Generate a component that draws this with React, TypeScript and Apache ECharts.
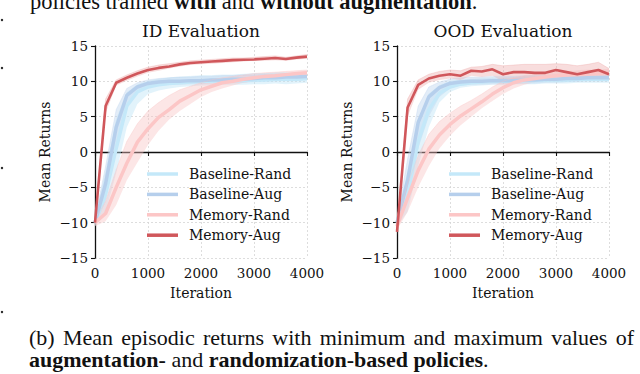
import React, { useEffect, useRef } from 'react';
import * as echarts from 'echarts';

// Iteration categories (step 200)
const iterations = ['0', '200', '400', '600', '800', '1000', '1200', '1400', '1600', '1800', '2000',
  '2200', '2400', '2600', '2800', '3000', '3200', '3400', '3600', '3800', '4000'];

const yTicks = [-15, -10, -5, 0, 5, 10, 15];
const xTickLabels = ['0', '1000', '2000', '3000', '4000'];
const seriesNames = ['Baseline-Rand', 'Baseline-Aug', 'Memory-Rand', 'Memory-Aug'];

// ---------- ID Evaluation ----------
const baseRandID = [-10, -6, 0.5, 6.5, 8.5, 9.2, 9.5, 9.7, 9.8, 9.9, 10.0, 10.0, 10.1, 10.1, 10.1, 10.2, 10.2, 10.3, 10.3, 10.3, 10.4];
const baseRandIDLo = [-10.5, -8.5, -3, 3.5, 6.8, 8.2, 8.7, 9.0, 9.2, 9.3, 9.4, 9.4, 9.5, 9.5, 9.5, 9.6, 9.6, 9.7, 9.6, 9.7, 9.8];
const baseRandIDHi = [-9.5, -3, 4.5, 8.4, 9.5, 10.0, 10.3, 10.5, 10.6, 10.7, 10.8, 10.8, 10.9, 10.9, 11.0, 11.1, 11.1, 11.2, 11.2, 11.1, 11.2];

const baseAugID = [-10, -4.5, 3.5, 8.0, 9.2, 9.7, 9.9, 10.0, 10.0, 10.1, 10.1, 10.2, 10.2, 10.3, 10.3, 10.4, 10.5, 10.5, 10.6, 10.6, 10.7];
const baseAugIDLo = [-10.5, -7, 1.0, 6.5, 8.5, 9.2, 9.4, 9.5, 9.5, 9.6, 9.6, 9.7, 9.7, 9.8, 9.8, 9.9, 10.0, 10.0, 10.1, 10.1, 10.2];
const baseAugIDHi = [-9.5, -2, 6, 9, 9.8, 10.2, 10.4, 10.5, 10.6, 10.6, 10.7, 10.7, 10.8, 10.8, 10.9, 10.9, 11.0, 11.0, 11.1, 11.1, 11.2];

const memRandID = [-10, -8.7, -5.0, -1.6, 1.4, 3.3, 4.9, 6.0, 7.2, 8.0, 8.8, 9.3, 9.8, 10.0, 10.3, 10.5, 10.7, 10.8, 10.95, 11.1, 11.2];
const memRandIDLo = [-10.5, -9.8, -7.5, -4, -1.5, 1, 3, 4.6, 5.8, 6.8, 7.8, 8.5, 9.0, 9.4, 9.8, 10.0, 10.2, 10.4, 10.5, 10.7, 10.8];
const memRandIDHi = [-9.5, -7, -2.5, 1.5, 4, 5.8, 7, 8, 8.8, 9.3, 9.8, 10.2, 10.5, 10.7, 10.9, 11.1, 11.2, 11.3, 11.4, 11.5, 11.6];

const memAugID = [-10, 6.5, 9.8, 10.5, 11.1, 11.6, 11.9, 12.1, 12.4, 12.6, 12.7, 12.8, 12.9, 13.0, 13.05, 13.1, 13.2, 13.3, 13.15, 13.35, 13.5];
const memAugIDLo = [-10.3, 5.5, 9.4, 10.1, 10.7, 11.2, 11.5, 11.8, 12.1, 12.3, 12.4, 12.5, 12.6, 12.7, 12.8, 12.9, 12.9, 13.0, 12.9, 13.1, 13.2];
const memAugIDHi = [-9.7, 7.5, 10.2, 10.9, 11.5, 12.0, 12.3, 12.5, 12.7, 12.9, 13.0, 13.1, 13.2, 13.3, 13.3, 13.4, 13.5, 13.6, 13.4, 13.6, 13.8];

// ---------- OOD Evaluation ----------
const baseRandOOD = [-10, -6, 1.5, 6.0, 8.3, 9.2, 9.6, 9.8, 9.9, 10.0, 10.0, 10.1, 10.1, 10.1, 10.2, 10.2, 10.2, 10.3, 10.3, 10.3, 10.3];
const baseRandOODLo = [-10.5, -8.5, -2, 3.5, 7.0, 8.5, 9.1, 9.3, 9.4, 9.5, 9.5, 9.6, 9.6, 9.6, 9.7, 9.7, 9.7, 9.8, 9.8, 9.8, 9.8];
const baseRandOODHi = [-9.5, -3, 4.5, 8.2, 9.4, 10.0, 10.2, 10.3, 10.4, 10.5, 10.5, 10.6, 10.6, 10.6, 10.7, 10.7, 10.7, 10.8, 10.8, 10.8, 10.8];

const baseAugOOD = [-10, -4, 4.2, 7.8, 9.1, 9.7, 9.9, 10.0, 10.0, 10.1, 10.1, 10.1, 10.2, 10.2, 10.3, 10.3, 10.4, 10.4, 10.5, 10.5, 10.5];
const baseAugOODLo = [-10.5, -7, 0.5, 5, 7.8, 9.0, 9.4, 9.5, 9.5, 9.6, 9.6, 9.6, 9.7, 9.7, 9.8, 9.8, 9.9, 9.9, 10.0, 10.0, 10.0];
const baseAugOODHi = [-9.5, -1, 6.5, 9.2, 9.9, 10.3, 10.5, 10.6, 10.6, 10.7, 10.7, 10.7, 10.8, 10.8, 10.8, 10.9, 10.9, 11.0, 11.0, 11.0, 11.0];

const memRandOOD = [-10.5, -6.5, -2.6, 0.4, 2.4, 3.9, 5.1, 6.1, 7.1, 8.2, 9.1, 9.8, 10.2, 10.4, 10.6, 10.8, 10.9, 11.0, 11.05, 11.1, 11.2];
const memRandOODLo = [-11, -8.5, -5, -2, 0.5, 2.3, 3.8, 5.0, 6.2, 7.2, 8.2, 9.0, 9.5, 9.9, 10.1, 10.3, 10.4, 10.5, 10.6, 10.6, 10.7];
const memRandOODHi = [-10, -4.5, -0.5, 2.5, 4.3, 5.5, 6.5, 7.3, 8.2, 9.2, 10.0, 10.5, 10.8, 11.0, 11.2, 11.3, 11.4, 11.5, 11.6, 11.6, 11.7];

const memAugOOD = [-11.3, 6.3, 9.5, 10.4, 10.8, 11.0, 10.8, 11.5, 11.4, 11.7, 11.0, 11.3, 11.3, 11.2, 11.2, 11.6, 11.3, 11.0, 11.3, 11.6, 11.0];
const memAugOODLo = [-11.8, 5, 8.8, 9.8, 10.2, 10.4, 10.2, 10.8, 10.6, 10.8, 10.0, 10.3, 10.4, 10.4, 10.5, 10.8, 10.6, 10.4, 10.6, 10.8, 10.4];
const memAugOODHi = [-10.8, 7.5, 10.2, 11.0, 11.4, 11.6, 11.5, 12.0, 12.1, 12.4, 12.2, 12.3, 12.4, 12.4, 12.4, 12.5, 12.4, 12.2, 12.4, 12.7, 11.8];

// Caption words
const captionTop = ['policies trained ', 'with', ' and ', 'without augmentation', '.'];
const captionLine1 = ['(b)', 'Mean', 'episodic', 'returns', 'with', 'minimum', 'and', 'maximum', 'values', 'of'];
const captionLine2 = ['augmentation-', ' and ', 'randomization-based policies', '.'];

const COLORS: Record<string, { line: string; band: string; width: number; bandOpacity: number }> = {
  'Baseline-Rand': { line: '#c4e8f9', band: '#bfe4f7', width: 3.5, bandOpacity: 0.45 },
  'Baseline-Aug': { line: '#b6cfec', band: '#c2d6ef', width: 3.5, bandOpacity: 0.45 },
  'Memory-Rand': { line: '#fcc6c6', band: '#f9c4c4', width: 3.5, bandOpacity: 0.42 },
  'Memory-Aug': { line: '#d0575b', band: '#eeaaaa', width: 2.6, bandOpacity: 0.4 },
};

const SERIF = 'DejaVu Serif';
const TIMES = 'Liberation Serif';

function seriesFor(grid: number, name: string, mean: number[], lo: number[], hi: number[]) {
  const c = COLORS[name];
  const stack = `band-${grid}-${name}`;
  const diff = hi.map((h, i) => +(h - lo[i]).toFixed(3));
  return [
    {
      type: 'line', name: `${name} min`, xAxisIndex: grid, yAxisIndex: grid,
      data: lo, stack, stackStrategy: 'all', symbol: 'none', silent: true,
      lineStyle: { opacity: 0 }, itemStyle: { color: c.band },
    },
    {
      type: 'line', name: `${name} max`, xAxisIndex: grid, yAxisIndex: grid,
      data: diff, stack, stackStrategy: 'all', symbol: 'none', silent: true,
      lineStyle: { width: 0.6, color: c.band, opacity: 0.6 },
      itemStyle: { color: c.band },
      areaStyle: { color: c.band, opacity: c.bandOpacity },
    },
    {
      type: 'line', name, xAxisIndex: grid, yAxisIndex: grid,
      data: mean, symbol: 'none',
      lineStyle: { width: c.width, color: c.line },
      itemStyle: { color: c.line },
    },
  ];
}

const minus = (v: number) => String(v).replace('-', '\u2212');

function xAxisFor(grid: number) {
  return {
    type: 'category', gridIndex: grid, data: iterations, boundaryGap: false,
    name: 'Iteration', nameLocation: 'middle', nameGap: 28,
    nameTextStyle: { fontFamily: SERIF, fontSize: 14, color: '#111' },
    axisLine: { lineStyle: { color: '#111', width: 1.3 } },
    axisTick: { show: true, interval: 4, length: 4, lineStyle: { color: '#111', width: 1.1 } },
    axisLabel: {
      interval: 4, margin: 8, fontFamily: SERIF, fontSize: 13.5, color: '#111',
      formatter: (v: string) => (xTickLabels.includes(v) ? v : ''),
    },
    splitLine: { show: true, interval: 4, lineStyle: { color: '#d4d4d4', width: 0.8, type: [2, 2] } },
  };
}

function yAxisFor(grid: number) {
  return {
    type: 'value', gridIndex: grid, min: yTicks[0], max: yTicks[yTicks.length - 1], interval: 5,
    name: 'Mean Returns', nameLocation: 'middle', nameGap: 43,
    nameTextStyle: { fontFamily: SERIF, fontSize: 14, color: '#111' },
    axisLine: { show: true, lineStyle: { color: '#111', width: 1.3 } },
    axisTick: { show: true, length: 4, lineStyle: { color: '#111', width: 1.1 } },
    axisLabel: { margin: 7, fontFamily: SERIF, fontSize: 13.5, color: '#111', formatter: minus },
    splitLine: { show: true, lineStyle: { color: '#d4d4d4', width: 0.8, type: [2, 2] } },
  };
}

function legendFor(left: number) {
  return {
    data: seriesNames, orient: 'vertical', left, top: 162, itemWidth: 31, itemHeight: 3.5,
    itemGap: 6.4, icon: 'rect', selectedMode: false,
    textStyle: { fontFamily: SERIF, fontSize: 14, color: '#111', padding: [0, 0, 0, 6] },
  };
}

const richTimes = {
  n: { fontFamily: TIMES, fontSize: 22, fill: '#111', lineHeight: 19 },
  b: { fontFamily: TIMES, fontSize: 22, fontWeight: 'bold', fill: '#111', lineHeight: 19 },
  s: { fontFamily: TIMES, fontSize: 22, fill: '#111', lineHeight: 19, padding: [0, 1.4, 0, 1.4] },
};

const option = {
  animation: false,
  textStyle: { fontFamily: SERIF },
  grid: [
    { left: 95, top: 46, width: 212, height: 212, containLabel: false, outerBoundsMode: 'none' },
    { left: 397, top: 46, width: 212, height: 212, containLabel: false, outerBoundsMode: 'none' },
  ],
  xAxis: [xAxisFor(0), xAxisFor(1)],
  yAxis: [yAxisFor(0), yAxisFor(1)],
  legend: [legendFor(142), legendFor(444)],
  series: [
    ...seriesFor(0, 'Baseline-Rand', baseRandID, baseRandIDLo, baseRandIDHi),
    ...seriesFor(0, 'Baseline-Aug', baseAugID, baseAugIDLo, baseAugIDHi),
    ...seriesFor(0, 'Memory-Rand', memRandID, memRandIDLo, memRandIDHi),
    ...seriesFor(0, 'Memory-Aug', memAugID, memAugIDLo, memAugIDHi),
    ...seriesFor(1, 'Baseline-Rand', baseRandOOD, baseRandOODLo, baseRandOODHi),
    ...seriesFor(1, 'Baseline-Aug', baseAugOOD, baseAugOODLo, baseAugOODHi),
    ...seriesFor(1, 'Memory-Rand', memRandOOD, memRandOODLo, memRandOODHi),
    ...seriesFor(1, 'Memory-Aug', memAugOOD, memAugOODLo, memAugOODHi),
  ],
  graphic: [
    {
      type: 'text', x: 201, y: 31,
      style: { text: 'ID Evaluation', fontFamily: SERIF, fontSize: 17, fill: '#111', align: 'center', verticalAlign: 'middle' },
    },
    {
      type: 'text', x: 503, y: 31,
      style: { text: 'OOD Evaluation', fontFamily: SERIF, fontSize: 17, fill: '#111', align: 'center', verticalAlign: 'middle' },
    },
    {
      type: 'text', x: 30, y: 1,
      style: {
        text: `{n|${captionTop[0]}}{b|${captionTop[1]}}{n|${captionTop[2]}}{b|${captionTop[3]}}{n|${captionTop[4]}}`,
        verticalAlign: 'middle', align: 'left', fill: '#111',
        rich: {
          n: { fontFamily: TIMES, fontSize: 22.5, fill: '#111', lineHeight: 19 },
          b: { fontFamily: TIMES, fontSize: 22.5, fontWeight: 'bold', fill: '#111', lineHeight: 19 },
        },
      },
    },
    {
      type: 'text', x: 29, y: 337.5,
      style: {
        text: captionLine1.map((w) => `{n|${w}}`).join('{s| }'),
        verticalAlign: 'middle', align: 'left', fill: '#111', rich: richTimes,
      },
    },
    {
      type: 'text', x: 29, y: 359.5,
      style: {
        text: `{b|${captionLine2[0]}}{n|${captionLine2[1]}}{b|${captionLine2[2]}}{n|${captionLine2[3]}}`,
        verticalAlign: 'middle', align: 'left', fill: '#111', rich: richTimes,
      },
    },
    { type: 'circle', shape: { cx: 2, cy: 20, r: 1.2 }, style: { fill: '#222' } },
    { type: 'circle', shape: { cx: 2, cy: 68, r: 1.2 }, style: { fill: '#222' } },
    { type: 'circle', shape: { cx: 2, cy: 168, r: 1.2 }, style: { fill: '#222' } },
    { type: 'circle', shape: { cx: 2, cy: 312, r: 1.2 }, style: { fill: '#222' } },
  ],
};

export default function App() {
  const ref = useRef<HTMLDivElement>(null);
  useEffect(() => {
    document.body.style.margin = '0';
    const chart = echarts.init(ref.current as HTMLDivElement, null, { renderer: 'svg' });
    chart.setOption(option as any);
    return () => chart.dispose();
  }, []);
  return <div ref={ref} style={{ width: 640, height: 374 }} />;
}
